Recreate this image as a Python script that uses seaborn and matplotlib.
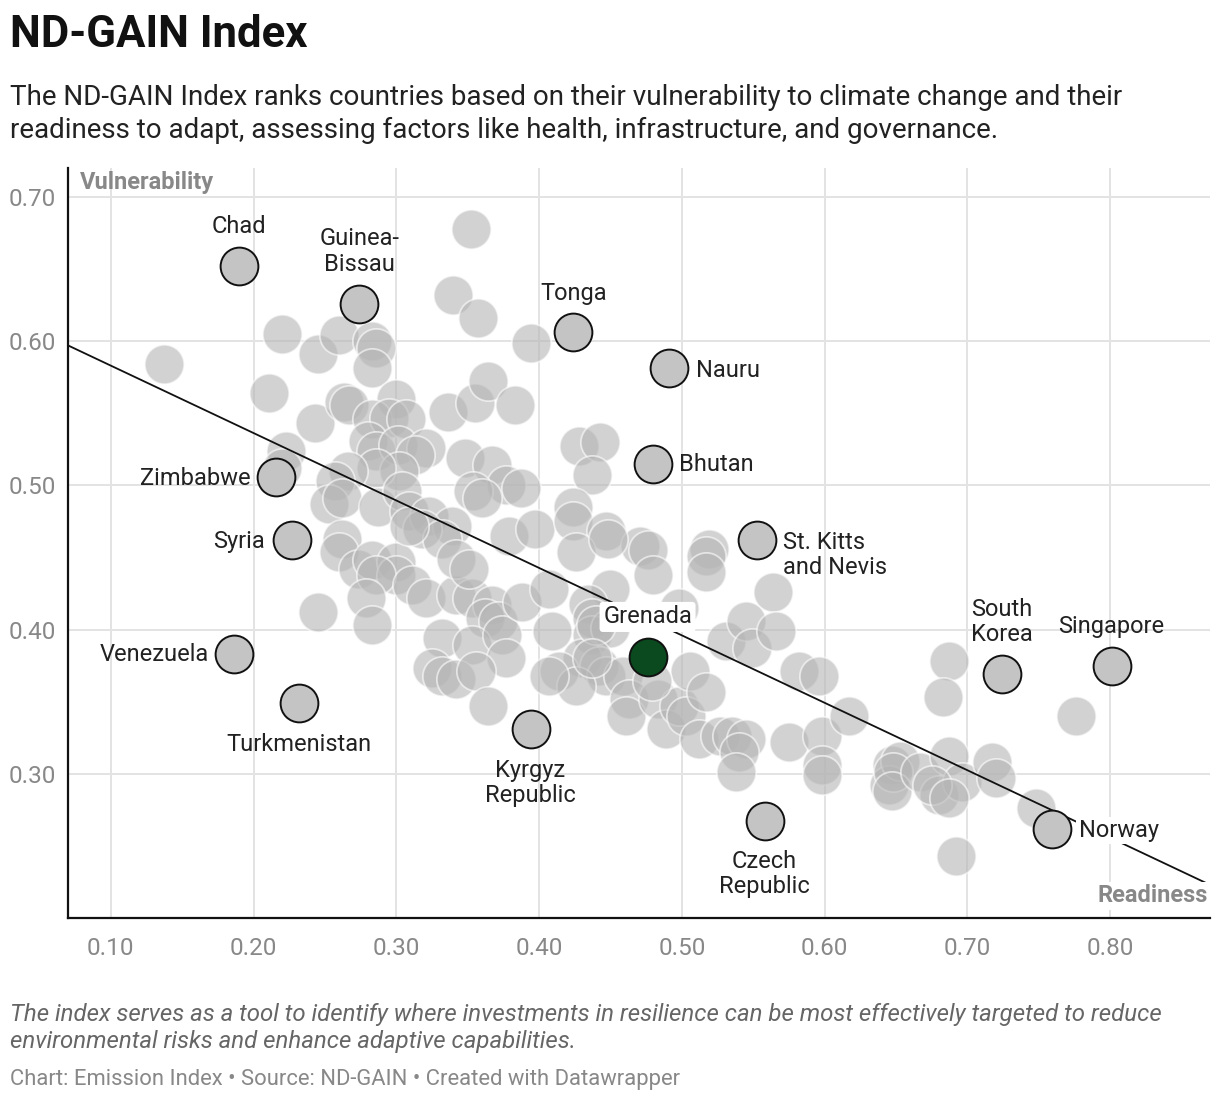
import matplotlib
matplotlib.use("Agg")
import matplotlib.pyplot as plt
import seaborn as sns
import pandas as pd

sns.set_style("white")
plt.rcParams["font.family"] = ["Roboto", "DejaVu Sans"]

# ======================
# DATA
# ======================
# other countries (readiness, vulnerability)
gray_x = [
    0.137, 0.352, 0.340, 0.357, 0.394, 0.220, 0.245, 0.260, 0.283, 0.286,
    0.283, 0.211, 0.243, 0.263, 0.267, 0.300, 0.283, 0.295, 0.307, 0.280,
    0.286, 0.301, 0.321, 0.313, 0.302, 0.286, 0.266, 0.257, 0.253, 0.262,
    0.287, 0.304, 0.309, 0.323, 0.339, 0.318, 0.332, 0.223, 0.220, 0.336,
    0.355, 0.364, 0.383, 0.348, 0.367, 0.377, 0.387, 0.354, 0.360, 0.379,
    0.397, 0.428, 0.443, 0.437, 0.424, 0.424, 0.447, 0.471, 0.519, 0.426,
    0.448, 0.476, 0.480, 0.517, 0.517, 0.564, 0.498, 0.450, 0.434, 0.437,
    0.409, 0.437, 0.450, 0.430, 0.414, 0.442, 0.447, 0.426, 0.459, 0.463,
    0.461, 0.483, 0.489, 0.498, 0.506, 0.503, 0.517, 0.512, 0.527, 0.535,
    0.545, 0.540, 0.538, 0.531, 0.545, 0.549, 0.566, 0.582, 0.596, 0.575,
    0.598, 0.598, 0.598, 0.617, 0.647, 0.645, 0.479, 0.262, 0.260, 0.273,
    0.283, 0.300, 0.300, 0.286, 0.279, 0.283, 0.245, 0.311, 0.321, 0.342,
    0.353, 0.367, 0.362, 0.371, 0.309, 0.342, 0.351, 0.332, 0.353, 0.374,
    0.377, 0.325, 0.332, 0.342, 0.356, 0.364, 0.388, 0.407, 0.407, 0.440,
    0.437, 0.687, 0.683, 0.776, 0.653, 0.648, 0.647, 0.667, 0.687, 0.680,
    0.696, 0.717, 0.720, 0.748, 0.692, 0.675, 0.687,
]
gray_y = [
    0.584, 0.678, 0.632, 0.616, 0.599, 0.605, 0.591, 0.604, 0.600, 0.595,
    0.581, 0.564, 0.543, 0.558, 0.556, 0.560, 0.546, 0.547, 0.546, 0.531,
    0.524, 0.528, 0.526, 0.521, 0.510, 0.512, 0.510, 0.503, 0.487, 0.491,
    0.485, 0.496, 0.482, 0.479, 0.472, 0.470, 0.463, 0.524, 0.512, 0.551,
    0.557, 0.572, 0.556, 0.519, 0.514, 0.500, 0.498, 0.496, 0.491, 0.465,
    0.470, 0.527, 0.530, 0.507, 0.485, 0.475, 0.468, 0.458, 0.456, 0.454,
    0.463, 0.455, 0.438, 0.451, 0.440, 0.426, 0.415, 0.428, 0.418, 0.408,
    0.399, 0.396, 0.401, 0.380, 0.371, 0.375, 0.368, 0.361, 0.368, 0.352,
    0.340, 0.352, 0.331, 0.347, 0.371, 0.340, 0.357, 0.324, 0.326, 0.326,
    0.324, 0.315, 0.301, 0.392, 0.406, 0.387, 0.399, 0.371, 0.368, 0.322,
    0.326, 0.306, 0.299, 0.340, 0.306, 0.292, 0.364, 0.463, 0.454, 0.442,
    0.448, 0.447, 0.438, 0.438, 0.422, 0.403, 0.412, 0.431, 0.422, 0.424,
    0.422, 0.417, 0.408, 0.406, 0.472, 0.449, 0.442, 0.394, 0.389, 0.396,
    0.380, 0.373, 0.368, 0.366, 0.371, 0.347, 0.419, 0.428, 0.368, 0.403,
    0.380, 0.378, 0.353, 0.340, 0.309, 0.301, 0.288, 0.301, 0.312, 0.285,
    0.294, 0.308, 0.297, 0.276, 0.243, 0.292, 0.283,
]

# labelled countries
hl_names = [
    "Chad", "Guinea-\nBissau", "Tonga", "Nauru", "Bhutan", "Zimbabwe",
    "Syria", "St. Kitts\nand Nevis", "Venezuela", "Turkmenistan",
    "Kyrgyz\nRepublic", "Czech\nRepublic", "South\nKorea", "Singapore",
    "Norway",
]
hl_x = [0.190, 0.274, 0.424, 0.491, 0.480, 0.216, 0.227, 0.553, 0.186,
        0.232, 0.394, 0.558, 0.724, 0.801, 0.759]
hl_y = [0.652, 0.626, 0.606, 0.581, 0.515, 0.506, 0.462, 0.462, 0.383,
        0.349, 0.331, 0.267, 0.369, 0.375, 0.262]

focus_name = "Grenada"
focus_x = [0.476]
focus_y = [0.381]

trend_x = [0.07, 0.87]
trend_y = [0.597, 0.223]

x_ticks = [0.10, 0.20, 0.30, 0.40, 0.50, 0.60, 0.70, 0.80]
y_ticks = [0.30, 0.40, 0.50, 0.60, 0.70]

gray_df = pd.DataFrame({"Readiness": gray_x, "Vulnerability": gray_y})
hl_df = pd.DataFrame({"Country": hl_names, "Readiness": hl_x, "Vulnerability": hl_y})
focus_df = pd.DataFrame({"Readiness": focus_x, "Vulnerability": focus_y})

# label offsets in pixels (dx, dy, ha)
label_pos = {
    "Chad": (0, 40, "center"),
    "Guinea-\nBissau": (0, 52, "center"),
    "Tonga": (0, 39, "center"),
    "Nauru": (27, -2, "left"),
    "Bhutan": (26, -1, "left"),
    "Zimbabwe": (-26, -2, "right"),
    "Syria": (-27, -1, "right"),
    "St. Kitts\nand Nevis": (26, -15, "left"),
    "Venezuela": (-25, 0, "right"),
    "Turkmenistan": (0, -41, "center"),
    "Kyrgyz\nRepublic": (0, -54, "center"),
    "Czech\nRepublic": (0, -53, "center"),
    "South\nKorea": (0, 52, "center"),
    "Singapore": (0, 39, "center"),
    "Norway": (27, -2, "left"),
}

# ======================
# PLOTTING
# ======================
W, H = 1220, 1102
fig = plt.figure(figsize=(W / 100, H / 100), dpi=100)
ax = fig.add_axes([68 / W, 1 - 918 / H, (1210 - 68) / W, (918 - 168) / H])

ax.set_axisbelow(True)
ax.grid(True, color="#e3e3e3", linewidth=1.4)

sns.scatterplot(data=gray_df, x="Readiness", y="Vulnerability", s=800,
                color="#b5b5b5", alpha=0.6, edgecolor="white", linewidth=1.3,
                legend=False, ax=ax, zorder=2)

ax.plot(trend_x, trend_y, color="#111111", linewidth=1.3, zorder=3)

sns.scatterplot(data=hl_df, x="Readiness", y="Vulnerability", s=740,
                color="#c4c4c4", edgecolor="#111111", linewidth=1.4,
                legend=False, ax=ax, zorder=4)
sns.scatterplot(data=focus_df, x="Readiness", y="Vulnerability", s=740,
                color="#0a4a1e", edgecolor="#111111", linewidth=1.4,
                legend=False, ax=ax, zorder=4)

for name, x, y in zip(hl_names, hl_x, hl_y):
    dx, dy, ha = label_pos[name]
    bbox = None
    if name == "Norway":
        bbox = dict(boxstyle="square,pad=0.1", fc="white", ec="none")
    ax.annotate(name, (x, y), xytext=(dx, dy), textcoords="offset pixels",
                ha=ha, va="center", fontsize=17, color="#222222",
                linespacing=1.12, bbox=bbox, zorder=5)

ax.annotate(focus_name, (focus_x[0], focus_y[0]), xytext=(0, 40),
            textcoords="offset pixels", ha="center", va="center",
            fontsize=17, color="#222222", zorder=5,
            bbox=dict(boxstyle="round,pad=0.15", fc="white", ec="none"))

ax.set_xlim(0.07, 0.87)
ax.set_ylim(0.20, 0.72)
ax.set_xticks(x_ticks)
ax.set_yticks(y_ticks)
ax.set_xticklabels([f"{v:.2f}" for v in x_ticks])
ax.set_yticklabels([f"{v:.2f}" for v in y_ticks])
ax.tick_params(axis="both", length=0, labelsize=17.5, labelcolor="#888888")
ax.tick_params(axis="x", pad=14)
ax.tick_params(axis="y", pad=9)
ax.set_xlabel("")
ax.set_ylabel("")

for side in ["top", "right"]:
    ax.spines[side].set_visible(False)
for side in ["left", "bottom"]:
    ax.spines[side].set_color("#111111")
    ax.spines[side].set_linewidth(1.6)

ax.text(80 / W, 1 - 182 / H, "Vulnerability", transform=fig.transFigure,
        ha="left", va="center", fontsize=17, fontweight="bold", color="#888888")
ax.text(1208 / W, 1 - 896 / H, "Readiness", transform=fig.transFigure,
        ha="right", va="center", fontsize=17, fontweight="bold", color="#888888",
        bbox=dict(boxstyle="square,pad=0.1", fc="white", ec="none"), zorder=6)

# ======================
# TITLES & NOTES
# ======================
fig.text(10 / W, 1 - 35 / H, "ND-GAIN Index", ha="left", va="center",
         fontsize=31.5, fontweight="bold", color="#111111")
fig.text(10 / W, 1 - 114 / H,
         "The ND-GAIN Index ranks countries based on their vulnerability to climate change and their\n"
         "readiness to adapt, assessing factors like health, infrastructure, and governance.",
         ha="left", va="center", fontsize=20, color="#222222", linespacing=1.3)
fig.text(10 / W, 1 - 1028 / H,
         "The index serves as a tool to identify where investments in resilience can be most effectively targeted to reduce\n"
         "environmental risks and enhance adaptive capabilities.",
         ha="left", va="center", fontsize=17.3, style="italic", color="#666666",
         linespacing=1.22)
fig.text(10 / W, 1 - 1079 / H,
         "Chart: Emission Index \u2022 Source: ND-GAIN \u2022 Created with Datawrapper",
         ha="left", va="center", fontsize=15.8, color="#888888")

plt.savefig("out.png", dpi=100)
plt.close()
